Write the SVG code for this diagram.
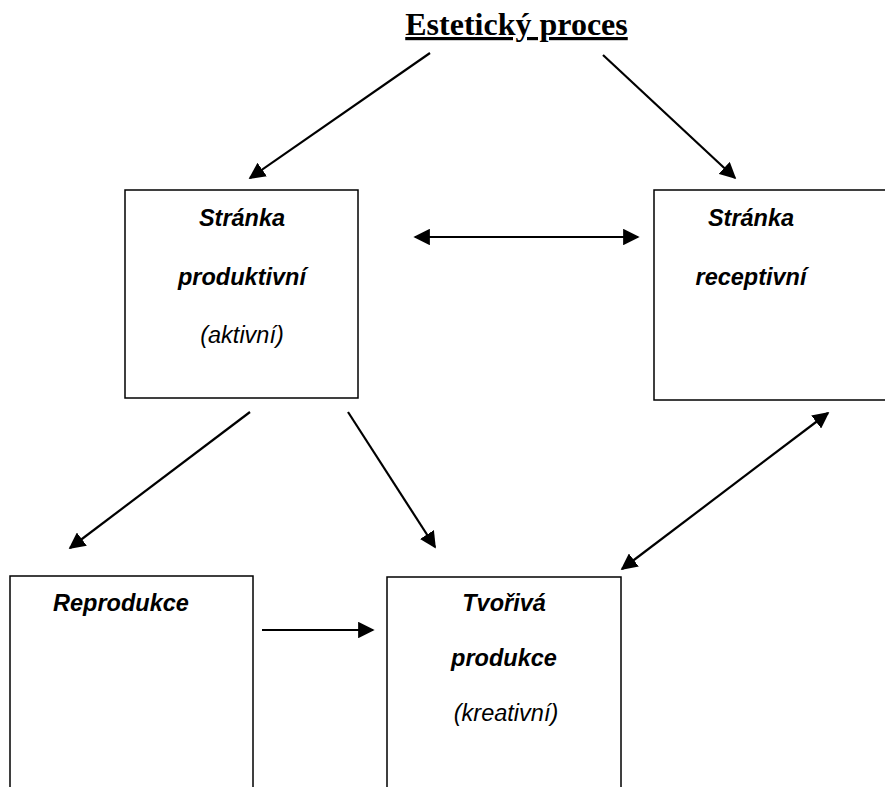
<svg xmlns="http://www.w3.org/2000/svg" width="885" height="787" viewBox="0 0 885 787">
<style>
.box{fill:#fff;stroke:#000;stroke-width:1.5}
.t{font-family:"Liberation Sans",Arial,sans-serif;font-style:italic;font-size:23.5px;text-anchor:middle;fill:#000}
.b{font-weight:bold}
.c{stroke:#000;stroke-width:2.2;fill:none}
</style>
<defs>
<marker id="ah" viewBox="0 0 10 10" refX="9" refY="5" markerWidth="7.5" markerHeight="7.5" orient="auto-start-reverse" markerUnits="strokeWidth">
<path d="M0,0 L10,5 L0,10 z" fill="#000"/>
</marker>
</defs>
<rect width="885" height="787" fill="#fff"/>
<g id="title">
<text x="516.5" y="35" font-family="Liberation Serif,'Times New Roman',serif" font-weight="bold" font-size="32" text-anchor="middle" text-decoration="underline">Estetický proces</text>
</g>
<g id="produktivni">
<rect class="box" x="125" y="190" width="233" height="208"/>
<text class="t b" x="242" y="226">Stránka</text>
<text class="t b" x="242" y="285">produktivní</text>
<text class="t" x="242" y="343">(aktivní)</text>
</g>
<g id="receptivni">
<rect class="box" x="654" y="190" width="240" height="210"/>
<text class="t b" x="751" y="226">Stránka</text>
<text class="t b" x="751" y="285">receptivní</text>
</g>
<g id="reprodukce">
<rect class="box" x="10" y="576" width="243" height="230"/>
<text class="t b" x="121" y="611">Reprodukce</text>
</g>
<g id="tvoriva">
<rect class="box" x="387" y="577" width="234" height="230"/>
<text class="t b" x="504" y="611">Tvořivá</text>
<text class="t b" x="504" y="666">produkce</text>
<text class="t" x="506" y="721">(kreativní)</text>
</g>
<g id="connectors">
<line class="c" x1="430" y1="53" x2="250" y2="178" marker-end="url(#ah)"/>
<line class="c" x1="603" y1="55" x2="735" y2="178" marker-end="url(#ah)"/>
<line class="c" x1="415" y1="237" x2="638" y2="237" marker-start="url(#ah)" marker-end="url(#ah)"/>
<line class="c" x1="250" y1="412" x2="70" y2="548" marker-end="url(#ah)"/>
<line class="c" x1="348" y1="412" x2="435" y2="547" marker-end="url(#ah)"/>
<line class="c" x1="262" y1="630" x2="373" y2="630" marker-end="url(#ah)"/>
<line class="c" x1="828" y1="413" x2="622" y2="569" marker-start="url(#ah)" marker-end="url(#ah)"/>
</g>
</svg>
